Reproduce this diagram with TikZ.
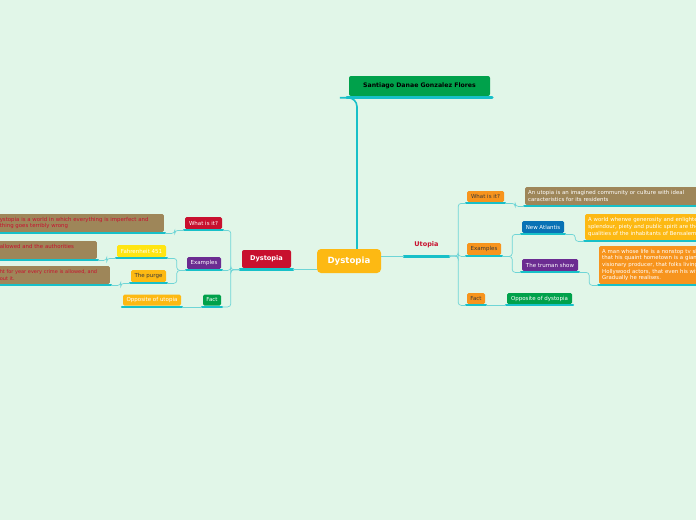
\documentclass[tikz,border=0pt]{standalone}
\usepackage{fontspec}
\setmainfont{DejaVu Sans}
\usepackage{tikz}
\usetikzlibrary{positioning}

\definecolor{bgmint}{HTML}{E1F6E8}
\definecolor{barteal}{HTML}{17C0C8}
\definecolor{lineteal}{HTML}{6ED5D6}
\definecolor{rootgold}{HTML}{FDB913}
\definecolor{mapred}{HTML}{C8102E}
\definecolor{mapgreen}{HTML}{00A14B}
\definecolor{mappurple}{HTML}{6B2C91}
\definecolor{mapbrown}{HTML}{9E8659}
\definecolor{mapyellow}{HTML}{FFE512}
\definecolor{maporange}{HTML}{F7941D}
\definecolor{mapblue}{HTML}{0872B5}
\definecolor{darktext}{HTML}{3A3A3A}

\begin{document}
\begin{tikzpicture}[x=1pt, y=-1pt,
    tag/.style={rounded corners=1.5pt, inner sep=0pt, minimum height=12pt, font=\fontsize{5.5}{6.5}\selectfont},
    note/.style={rounded corners=1.5pt, inner xsep=3pt, inner ysep=1.5pt, align=left, font=\fontsize{5.4}{6.6}\selectfont},
    bar/.style={barteal, line width=2pt, line cap=round},
    mainbar/.style={barteal, line width=3pt, line cap=round},
    conn/.style={lineteal, line width=0.7pt, rounded corners=3pt}]
  % fondo
  \useasboundingbox (0,0) rectangle (696,520);
  \fill[bgmint] (0,0) rectangle (696,520);

  % nodo centrale e rami principali
  \node[fill=rootgold, rounded corners=4pt, inner sep=0pt, minimum width=64pt, minimum height=24pt,
        text=white, font=\bfseries\fontsize{8.6}{10}\selectfont] (root) at (349,261) {Dystopia};
  \node[fill=mapgreen, rounded corners=2pt, inner sep=0pt, minimum width=141pt, minimum height=20pt,
        text=black, font=\bfseries\fontsize{6.2}{7}\selectfont] (author) at (419.5,86) {Santiago Danae Gonzalez Flores};
  \node[anchor=south, inner sep=0pt, minimum width=45pt, text height=5pt, text depth=8pt,
        text=mapred, font=\bfseries\fontsize{6.5}{7}\selectfont] (utopia) at (426.5,255) {Utopia};
  \node[fill=mapred, rounded corners=2pt, inner sep=0pt, minimum width=49pt, minimum height=18pt,
        text=white, font=\bfseries\fontsize{6.6}{7}\selectfont] (dystopia) at (266.5,259) {Dystopia};

  \draw[mainbar] ([xshift=-2pt,yshift=-1.5pt]author.south west) coordinate (author-l)
              -- ([xshift=2pt,yshift=-1.5pt]author.south east);
  \draw[mainbar] ([yshift=-1pt]utopia.south west) coordinate (utopia-l)
              -- ([yshift=-1pt]utopia.south east) coordinate (utopia-r);
  \draw[mainbar] ([xshift=-2pt,yshift=-1.5pt]dystopia.south west) coordinate (dystopia-l)
              -- ([xshift=2pt,yshift=-1.5pt]dystopia.south east) coordinate (dystopia-r);

  % ramo sinistro (dystopia)
  \node[tag, fill=mapred, text=white, minimum width=37pt] (dWhat) at (203.5,223) {What is it?};
  \node[tag, fill=mappurple, text=white, minimum width=34pt] (dEx) at (204,263) {Examples};
  \node[tag, fill=mapgreen, text=white, minimum width=18pt, minimum height=11pt] (dFact) at (212,300) {Fact};
  \node[tag, fill=mapyellow, text=white, minimum width=49pt] (dFahr) at (141.5,251) {Fahrenheit 451};
  \node[tag, fill=rootgold, text=darktext, minimum width=35pt] (dPurge) at (148.5,276) {The purge};
  \node[tag, fill=rootgold, text=white, minimum width=58pt, minimum height=11pt] (dFactTxt) at (152,300) {Opposite of utopia};
  \node[note, fill=mapbrown, text=mapred, anchor=east, text width=161pt, minimum height=18pt] (dWhatTxt) at (164,223)
       {ystopia is a world in which everything is imperfect and\\thing goes terribly wrong};
  \node[note, fill=mapbrown, text=mapred, anchor=east, text width=94pt, minimum height=18pt] (dFahrTxt) at (97,250)
       {allowed and the authorities\\\mbox{}};
  \node[note, fill=mapbrown, text=mapred, anchor=east, text width=107pt, minimum height=18pt,
        font=\fontsize{5}{6.6}\selectfont] (dPurgeTxt) at (110,275)
       {ht for year every crime is allowed, and\\out it.};

  % ramo destro (utopia)
  \node[tag, fill=maporange, text=darktext, minimum width=37pt, minimum height=11pt] (uWhat) at (485.5,196.5) {What is it?};
  \node[tag, fill=maporange, text=darktext, minimum width=34pt] (uEx) at (484,249) {Examples};
  \node[tag, fill=maporange, text=darktext, minimum width=18pt, minimum height=11pt] (uFact) at (476,298.5) {Fact};
  \node[tag, fill=mapblue, text=white, minimum width=42pt] (uAtlantis) at (543,227) {New Atlantis};
  \node[tag, fill=mappurple, text=white, minimum width=56pt] (uTruman) at (550,265) {The truman show};
  \node[tag, fill=mapgreen, text=white, minimum width=65pt, minimum height=11pt] (uFactTxt) at (539.5,298.5) {Opposite of dystopia};
  \node[note, fill=mapbrown, text=white, anchor=west, text width=170pt, minimum height=18pt] (uWhatTxt) at (525,196)
       {An utopia is an imagined community or culture with ideal\\caracteristics for its residents};
  \node[note, fill=rootgold, text=white, anchor=west, text width=150pt, minimum height=26pt] (uAtlantisTxt) at (585,227)
       {A world wherwe generosity and enlightenment,\\splendour, piety and public spirit are the\\qualities of the inhabitants of Bensalem};
  \node[note, fill=maporange, text=white, anchor=west, text width=150pt, minimum height=38pt] (uTrumanTxt) at (599,265)
       {A man whose life is a nonstop tv show\\that his quaint hometown is a giant\\visionary producer, that folks living\\Hollywood actors, that even his wife\\Gradually he realises.};

  % sottolineature
  \foreach \n in {dWhat,dEx,dFact,dFahr,dPurge,dFactTxt,dWhatTxt,dFahrTxt,dPurgeTxt,
                  uWhat,uEx,uFact,uAtlantis,uTruman,uFactTxt,uWhatTxt,uAtlantisTxt,uTrumanTxt}{
    \draw[bar] ([xshift=-1pt,yshift=-1.2pt]\n.south west) coordinate (\n-l)
            -- ([xshift=1pt,yshift=-1.2pt]\n.south east) coordinate (\n-r);
  }

  % collegamenti
  \draw[barteal, line width=1.6pt, rounded corners=9pt] ([xshift=8pt]root.north) |- ([xshift=-7pt]author-l);
  \draw[conn] (root.east |- utopia-l) -- (utopia-l);
  \draw[conn] (root.west |- dystopia-r) -- (dystopia-r);
  \coordinate (uJ) at ([xshift=9pt]utopia-r);
  \foreach \c in {uWhat,uEx,uFact}{ \draw[conn] (utopia-r) -- (uJ) |- (\c-l); }
  \coordinate (dJ) at ([xshift=-9pt]dystopia-l);
  \foreach \c in {dWhat,dEx,dFact}{ \draw[conn] (dystopia-l) -- (dJ) |- (\c-r); }
  \coordinate (uExJ) at ([xshift=10pt]uEx-r);
  \foreach \c in {uAtlantis,uTruman}{ \draw[conn] (uEx-r) -- (uExJ) |- (\c-l); }
  \coordinate (dExJ) at ([xshift=-9pt]dEx-l);
  \foreach \c in {dFahr,dPurge}{ \draw[conn] (dEx-l) -- (dExJ) |- (\c-r); }
  \foreach \a/\b in {uWhat/uWhatTxt,uAtlantis/uAtlantisTxt,uTruman/uTrumanTxt}{
    \draw[conn] (\a-r) -- ++(10,0) |- (\b-l);
  }
  \foreach \a/\b in {dWhat/dWhatTxt,dFahr/dFahrTxt,dPurge/dPurgeTxt}{
    \draw[conn] (\a-l) -- ++(-9,0) |- (\b-r);
  }
  \draw[conn] (uFact-r) -- (uFactTxt-l);
  \draw[conn] (dFact-l) -- (dFactTxt-r);
\end{tikzpicture}
\end{document}
